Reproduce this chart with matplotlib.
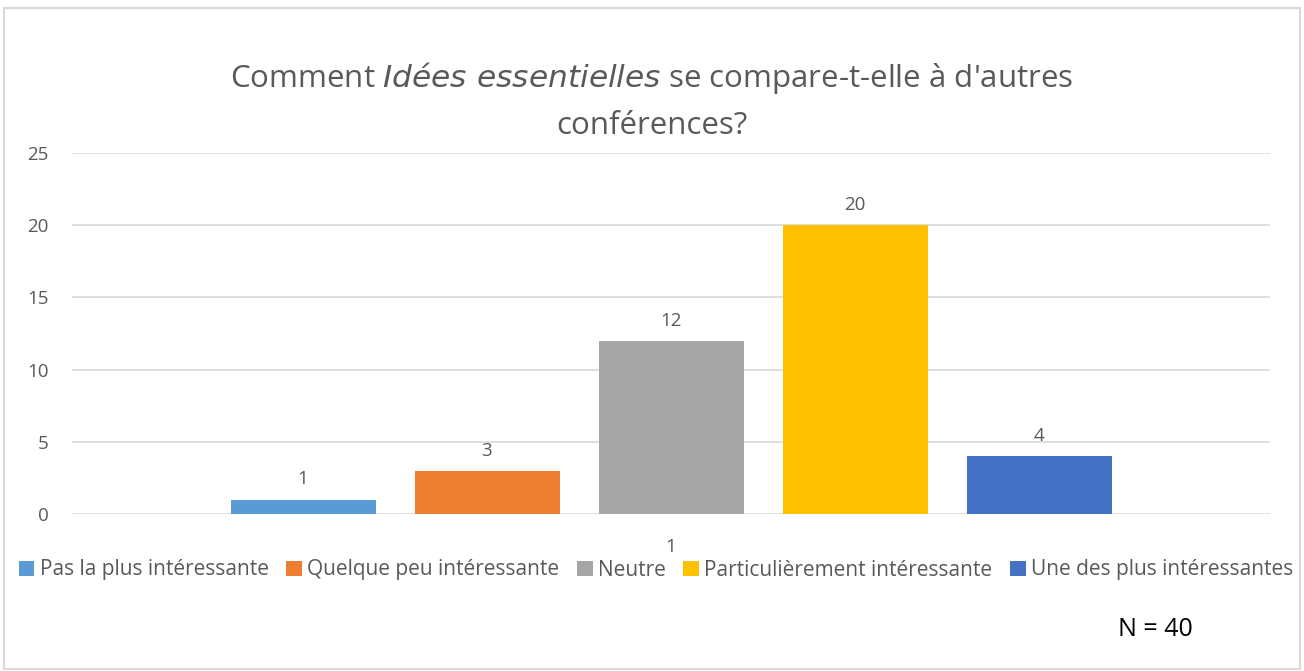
import matplotlib
matplotlib.use("Agg")
import matplotlib.pyplot as plt
from matplotlib.patches import Rectangle
import numpy as np

categories = ["1"]
series = ["Pas la plus intéressante", "Quelque peu intéressante", "Neutre",
          "Particulièrement intéressante", "Une des plus intéressantes"]
values = [1, 3, 12, 20, 4]
colors = ["#5B9BD5", "#ED7D31", "#A5A5A5", "#FFC000", "#4472C4"]
yticks = [0, 5, 10, 15, 20, 25]

plt.rcParams['font.family'] = ['Open Sans', 'DejaVu Sans']
txt = "#595959"

fig = plt.figure(figsize=(13.04, 6.71), dpi=100)
fig.patches.append(Rectangle((0.003, 0.003), 0.994, 0.985, transform=fig.transFigure,
                             fill=False, edgecolor="#D9D9D9", linewidth=1.5))

ax = fig.add_axes([72/1304, 157/671, (1270-72)/1304, (514-153)/671])
step = 184/1198
width = 145/1198
n = len(series)
for i, (s, v, c) in enumerate(zip(series, values, colors)):
    x = 0 + (i - (n-1)/2) * step
    b = ax.bar(x, v, width=width, color=c, label=s, zorder=3)
    ax.bar_label(b, labels=[str(v)], padding=8, fontsize=13.5, color=txt)

ax.set_xlim(-0.5, 0.5)
ax.set_ylim(0, 25)
ax.set_yticks(yticks)
ax.set_xticks([0])
ax.set_xticklabels(categories)
ax.tick_params(axis='both', length=0, labelsize=13.5, colors=txt)
ax.tick_params(axis='y', pad=17)
ax.tick_params(axis='x', pad=17)
ax.grid(axis='y', color="#D9D9D9", linewidth=1.2, zorder=0)
for sp in ax.spines.values():
    sp.set_visible(False)

fig.text(0.5, 1-78/671, "Comment $\\it{Idées\\ essentielles}$ se compare-t-elle à d'autres",
         ha='center', va='center', fontsize=22.5, color=txt)
fig.text(0.5, 1-126/671, "conférences?", ha='center', va='center', fontsize=22.5, color=txt)

leg = fig.legend(loc='center', bbox_to_anchor=(656/1304, 1-570/671), ncol=5, frameon=False,
                 fontsize=15, handlelength=0.75, handleheight=0.75, handletextpad=0.25,
                 columnspacing=0.85, labelcolor=txt)

fig.text(1155/1304, 1-630/671, "N = 40", ha='center', va='center', fontsize=18, color="black")

fig.savefig("out.png", dpi=100)
